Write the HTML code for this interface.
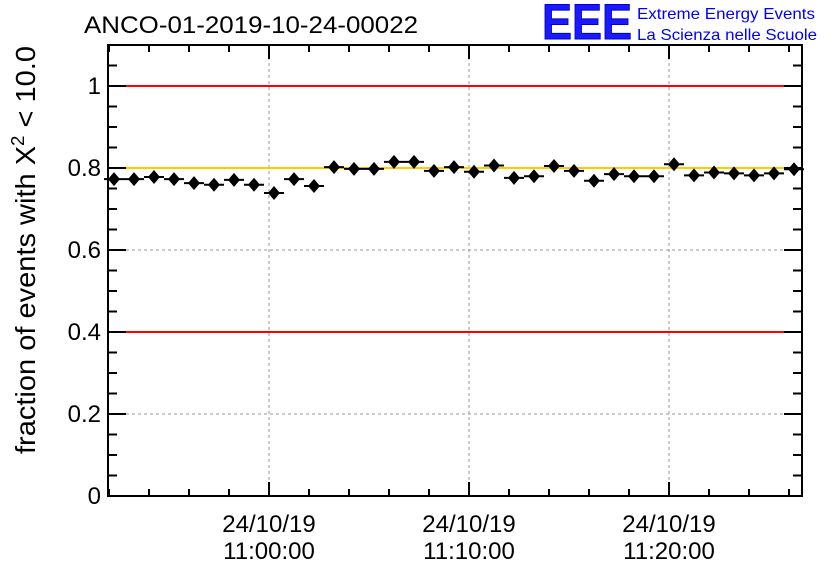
<!DOCTYPE html>
<html><head><meta charset="utf-8"><style>
body{margin:0;background:#fff}
svg{display:block;font-family:"Liberation Sans",sans-serif}
</style></head><body>
<svg id="chart" width="836" height="572" viewBox="0 0 836 572" xmlns="http://www.w3.org/2000/svg">
<rect width="836" height="572" fill="#fff"/>
<text x="84" y="33" font-size="24" textLength="334" lengthAdjust="spacingAndGlyphs">ANCO-01-2019-10-24-00022</text>
<g>
<text x="542" y="39" font-size="50" font-weight="bold" fill="#1a1aff" stroke="#0000cc" stroke-width="1" textLength="90" lengthAdjust="spacingAndGlyphs">EEE</text>
<text x="637" y="19" font-size="16" fill="#0000ff" textLength="178" lengthAdjust="spacingAndGlyphs">Extreme Energy Events</text>
<text x="637" y="40" font-size="16" fill="#0000ff" textLength="180" lengthAdjust="spacingAndGlyphs">La Scienza nelle Scuole</text>
</g>
<text transform="translate(35,250) rotate(-90)" text-anchor="middle" font-size="28" textLength="408" lengthAdjust="spacingAndGlyphs">fraction of events with Χ<tspan dy="-11" font-size="18">2</tspan><tspan dy="11"> &lt; 10.0</tspan></text>
<g id="grid"></g>
<g id="axes"></g>
<g id="marks"></g>
</svg>
<script>
const minutes = [52,53,54,55,56,57,58,59,60,61,62,63,64,65,66,67,68,69,70,71,72,73,74,75,76,77,78,79,80,81,82,83,84,85,86];
const fractions = [0.773,0.773,0.778,0.773,0.763,0.759,0.771,0.759,0.739,0.773,0.756,0.802,0.798,0.798,0.815,0.815,0.793,0.802,0.791,0.806,0.776,0.780,0.805,0.793,0.769,0.785,0.780,0.780,0.809,0.782,0.789,0.787,0.782,0.787,0.797];
const errors = [0.004,0.004,0.004,0.004,0.004,0.004,0.004,0.004,0.004,0.004,0.004,0.004,0.004,0.004,0.004,0.004,0.004,0.004,0.004,0.004,0.004,0.004,0.004,0.004,0.004,0.004,0.004,0.004,0.004,0.004,0.004,0.004,0.004,0.004,0.004];
const yTicks = [0,0.2,0.4,0.6,0.8,1];
const yTickLabels = ["0","0.2","0.4","0.6","0.8","1"];
const xMajor = [60,70,80];
const xMajorLabels = [["24/10/19","11:00:00"],["24/10/19","11:10:00"],["24/10/19","11:20:00"]];
const redLines = [0.4,1.0];
const yellowLine = [0.8];

const L=108,R=802,T=45,B=496;
const X0=51.95, X1=86.65, Y0=0, Y1=1.1;
function sx(m){return L+(m+0.25-X0)/(X1-X0)*(R-L);}
function sy(v){return B-(v-Y0)/(Y1-Y0)*(B-T);}
const NS="http://www.w3.org/2000/svg";
function mk(parent,tag,attrs){const e=document.createElementNS(NS,tag);for(const k in attrs)e.setAttribute(k,attrs[k]);document.getElementById(parent).appendChild(e);return e;}

for(const v of yTicks.slice(1,5)){const e=mk('grid','line',{x1:L,x2:R,y1:sy(v),y2:sy(v),stroke:'#999','stroke-dasharray':'3,3','stroke-width':1});

}
for(const m of xMajor){const e=mk('grid','line',{x1:sx(m-0.25),x2:sx(m-0.25),y1:T,y2:B,stroke:'#999','stroke-dasharray':'3,3','stroke-width':1});

}
for(const v of redLines){const e=mk('grid','line',{x1:L,x2:R,y1:sy(v),y2:sy(v),stroke:'#ff0000','stroke-width':2});

}
for(const v of yellowLine){const e=mk('grid','line',{x1:L,x2:R,y1:sy(v),y2:sy(v),stroke:'#ffcc00','stroke-width':2});

}

const fr=mk('axes','rect',{x:L,y:T,width:R-L,height:B-T,fill:'none',stroke:'#000','stroke-width':2});


for(let i=0;i<=22;i++){const v=i*0.05;const len=(i%4===0)?18:9;
mk('axes','line',{x1:L,x2:L+len,y1:sy(v),y2:sy(v),stroke:'#000','stroke-width':2});
mk('axes','line',{x1:R-len,x2:R,y1:sy(v),y2:sy(v),stroke:'#000','stroke-width':2});}
yTicks.forEach((v,i)=>{const t=mk('axes','text',{x:L-7,y:sy(v)+8,'text-anchor':'end','font-size':24});t.textContent=yTickLabels[i];

});
for(let m=52;m<=86;m+=2){const x=sx(m-0.25);const len=(m%10===0)?14:7;
mk('axes','line',{x1:x,x2:x,y1:B,y2:B-len,stroke:'#000','stroke-width':2});
mk('axes','line',{x1:x,x2:x,y1:T,y2:T+len,stroke:'#000','stroke-width':2});}
xMajor.forEach((m,i)=>{const x=sx(m-0.25);
const a=mk('axes','text',{x:x,y:532,'text-anchor':'middle','font-size':24});a.textContent=xMajorLabels[i][0];


const b=mk('axes','text',{x:x,y:559,'text-anchor':'middle','font-size':24});b.textContent=xMajorLabels[i][1];

});

minutes.forEach((m,i)=>{const x=sx(m),y=sy(fractions[i]);
const h=mk('marks','line',{x1:sx(m-0.5),x2:sx(m+0.5),y1:y,y2:y,stroke:'#000','stroke-width':2});


const v=mk('marks','line',{x1:x,x2:x,y1:sy(fractions[i]+errors[i]),y2:sy(fractions[i]-errors[i]),stroke:'#000','stroke-width':2});


const d=mk('marks','polygon',{points:`${x},${y-7} ${x+6},${y} ${x},${y+7} ${x-6},${y}`,fill:'#000'});

});
</script>
</body></html>
